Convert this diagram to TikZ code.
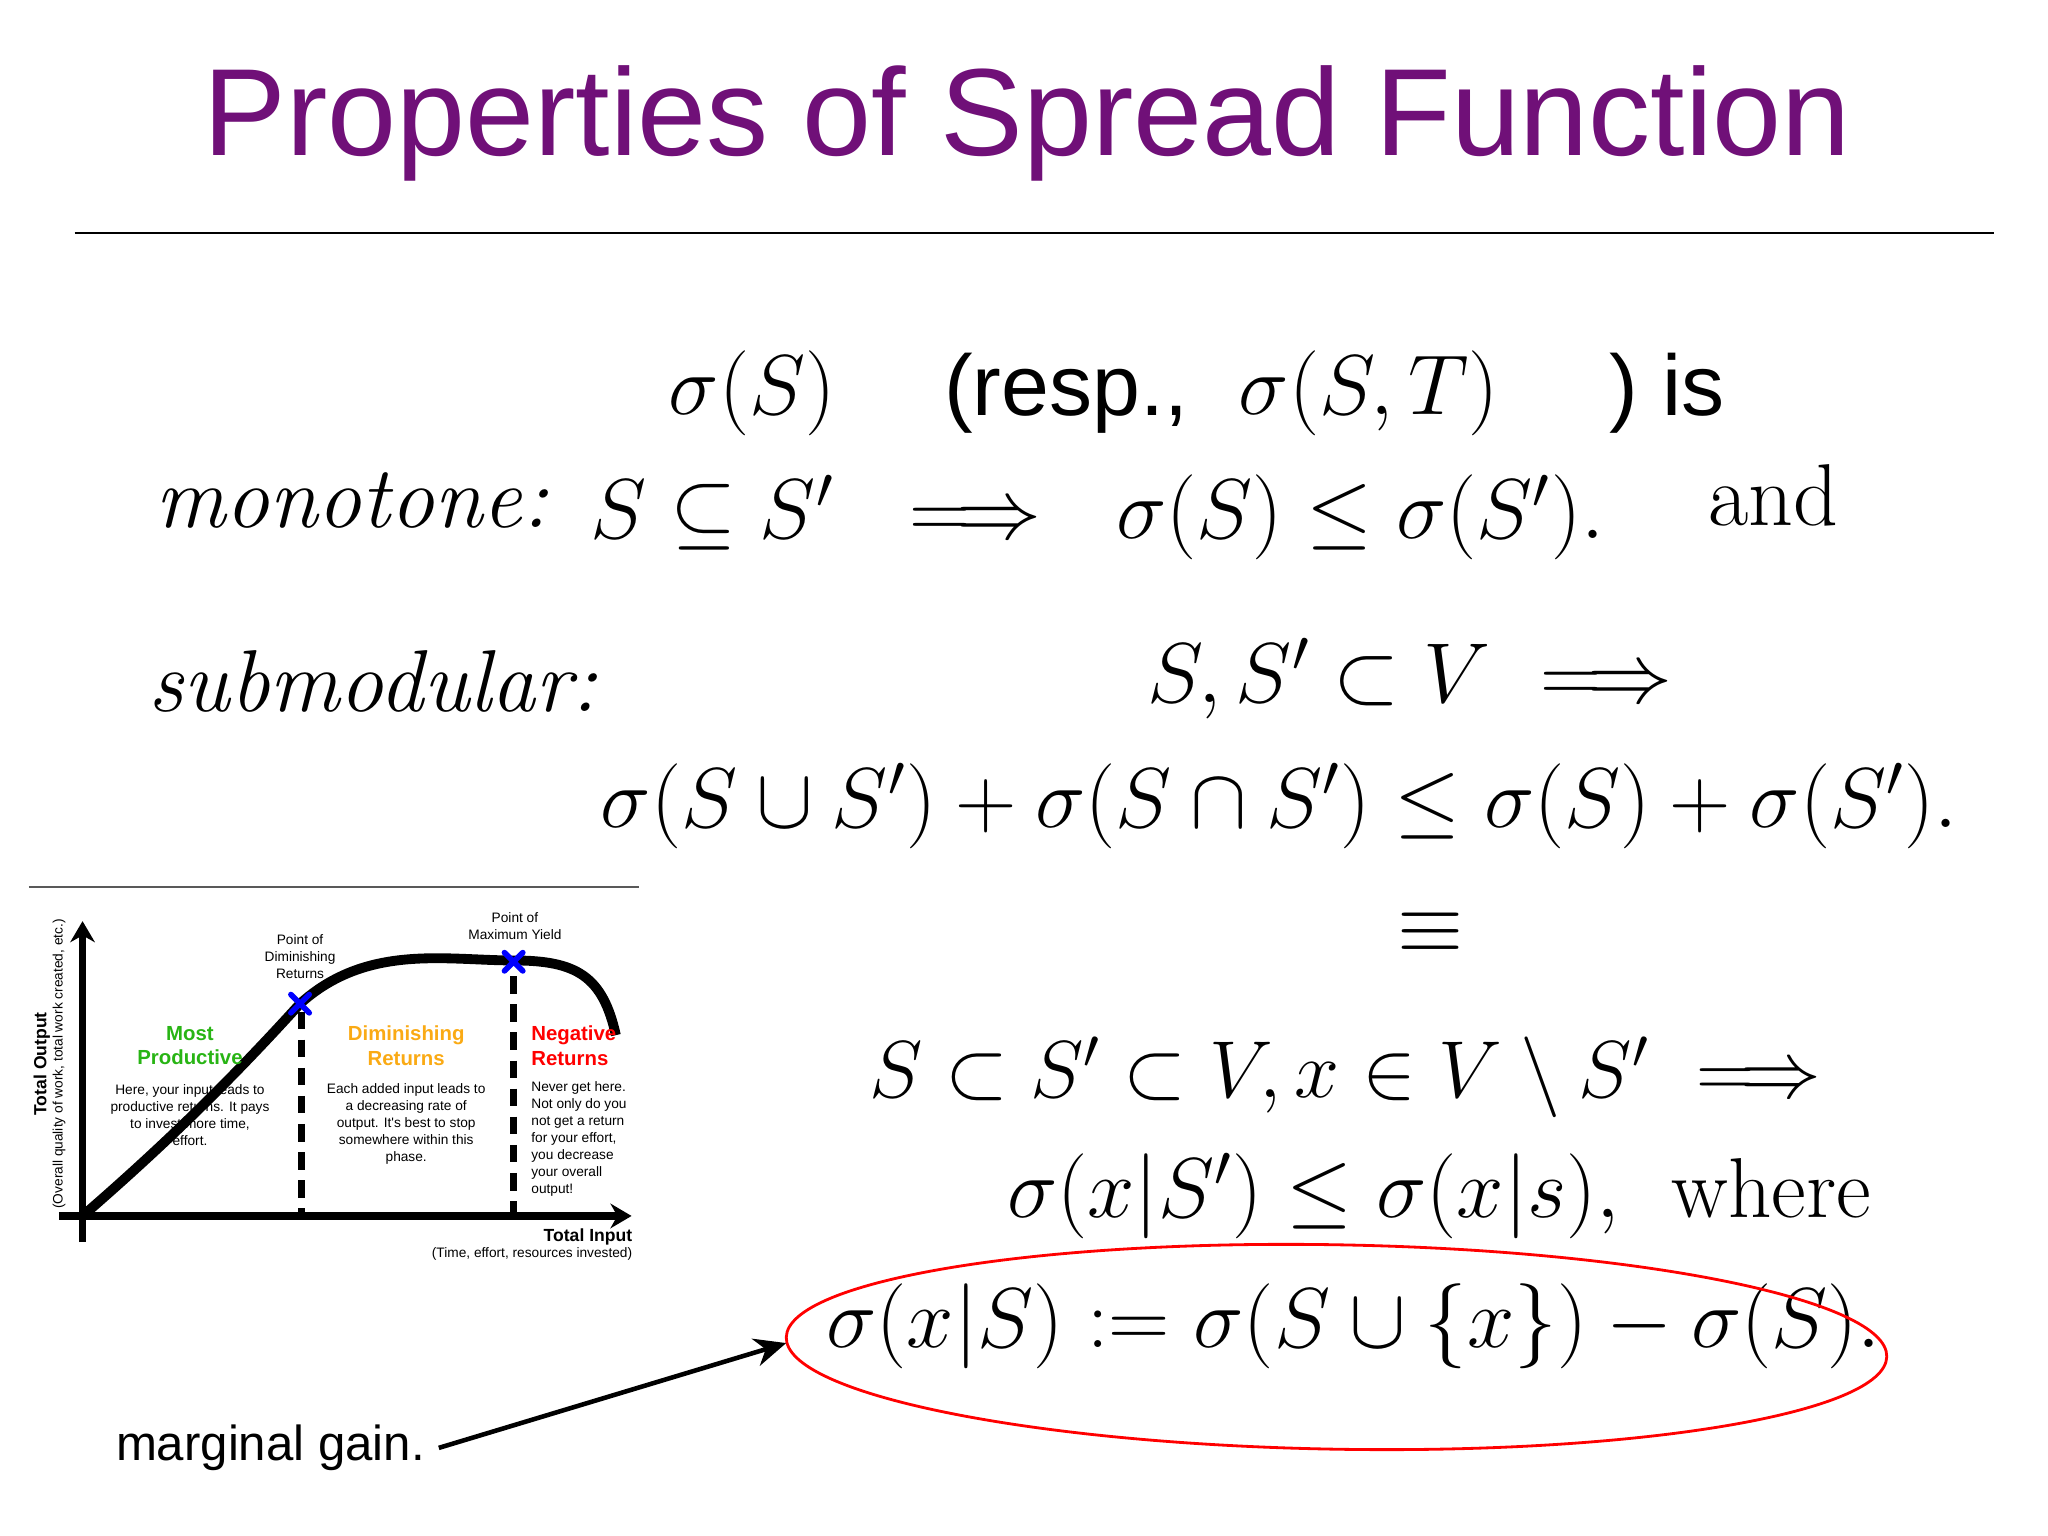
\RequirePackage{fix-cm}
\documentclass[tikz,border=0pt]{standalone}
\usepackage{fontspec}
\newfontfamily\hv{Liberation Sans}
\usetikzlibrary{arrows.meta}
\definecolor{ttl}{RGB}{112,16,120}
\definecolor{grn}{RGB}{40,180,20}
\definecolor{org}{RGB}{250,170,20}
\tikzset{
 mth/.style={anchor=west,inner sep=0pt,font=\fontsize{24.2}{29}\selectfont},
 small/.style={font=\hv\fontsize{3.9}{4.85}\selectfont,inner sep=0pt,align=center},
 head/.style={font=\hv\bfseries\fontsize{5.8}{7}\selectfont,inner sep=0pt,align=center},
 bx/.style={blue,line width=1.6pt,line cap=round}
}
\begin{document}
\begin{tikzpicture}[x=0.0131cm,y=-0.0131cm]
\useasboundingbox (0,0) rectangle (1563,1172);
\node[font=\hv\fontsize{35.3}{40}\selectfont,text=ttl,inner sep=0pt] (title) at (784,94) {Properties of Spread Function};
\draw[line width=0.7pt] (57,178) -- (1522,178);
% line 1
\node[mth] (l1a) at (510,300) {$\sigma(S)$};
\node[mth,font=\hv\fontsize{24.5}{30}\selectfont] (l1b) at (720,300) {(resp.,};
\node[mth] (l1c) at (945,300) {$\sigma(S,T)$};
\node[mth,font=\hv\fontsize{24.5}{30}\selectfont] (l1d) at (1228,300) {) is};
% line 2
\node[mth,font=\itshape\fontsize{25}{30}\selectfont] (mono) at (118,382) {monotone:};
\node[mth] (l2) at (450,395) {$S\subseteq S'\ \ \Longrightarrow\ \ \sigma(S)\le\sigma(S').$};
\node[mth,font=\fontsize{25}{30}\selectfont] (and) at (1303,378) {and};
% line 3
\node[mth,font=\itshape\fontsize{25}{30}\selectfont] (sub) at (113,520) {submodular:};
\node[mth] (l3) at (875,518) {$S,S'\subset V\ \Longrightarrow$};
\node[mth] (l4) at (458,615) {$\sigma(S\cup S')+\sigma(S\cap S')\le\sigma(S)+\sigma(S').$};
\node[inner sep=0pt,font=\fontsize{24.2}{29}\selectfont] (eq) at (1092,712) {$\equiv$};
\node[mth,font=\fontsize{23}{28}\selectfont] (l6) at (663,822) {$S\subset S'\subset V, x\in V\setminus S'\ \Longrightarrow$};
\node[mth] (l7) at (768,913) {$\sigma(x|S')\le\sigma(x|s),$\ \ where};
\node[mth] (l8) at (630,1012) {$\sigma(x|S):=\sigma(S\cup\{x\})-\sigma(S).$};
\draw[red,line width=0.8pt,rotate around={-1:(1020,1028)}] (1020,1028) ellipse [x radius=420,y radius=78];
\coordinate (ell) at (600,1025);
\node[font=\hv\fontsize{14}{16}\selectfont,anchor=west,inner sep=0pt] (mg) at (88,1105) {marginal gain.};
\draw[-{Stealth[length=9pt,width=8pt]},line width=1.3pt] (mg.east)++(10,0) -- (ell);
% chart
\draw[line width=0.5pt,gray!70!black] (22,677) -- (488,677);
\draw[line width=2.2pt,-{Stealth[length=6pt,width=7pt]}] (63,948) -- (63,703);
\draw[line width=2.2pt,-{Stealth[length=6pt,width=7pt]}] (45,928) -- (482,928);
\draw[line width=2.8pt] (63,928) .. controls (130,870) and (180,820) .. (229,766)
  .. controls (280,720) and (340,733) .. (392,733)
  .. controls (440,733) and (460,745) .. (470,790);
\draw[line width=2pt,dash pattern=on 5pt off 3pt] (230,772) -- (230,925);
\draw[line width=2pt,dash pattern=on 5pt off 3pt] (392,745) -- (392,925);
\draw[bx] (222,759) -- (236,773) (222,773) -- (236,759);
\draw[bx] (385,727) -- (399,741) (385,741) -- (399,727);
\node[small] (pd) at (229,730) {Point of\\Diminishing\\Returns};
\node[small] (pm) at (393,707) {Point of\\Maximum Yield};
\node[head,text=grn] (h1) at (145,798) {Most\\Productive};
\node[small] (t1) at (145,851) {Here, your input leads to\\productive returns. It pays\\to invest more time,\\effort.};
\node[head,text=org] (h2) at (310,798) {Diminishing\\Returns};
\node[small] (t2) at (310,858) {Each added input leads to\\a decreasing rate of\\output. It's best to stop\\somewhere within this\\phase.};
\node[head,text=red,align=left,anchor=west] (h3) at (405,798) {Negative\\Returns};
\node[small,align=left,anchor=west] (t3) at (405,869) {Never get here.\\Not only do you\\not get a return\\for your effort,\\you decrease\\your overall\\output!};
\node[font=\hv\bfseries\fontsize{5}{6}\selectfont,rotate=90,inner sep=0pt] (yl) at (32,812) {Total Output};
\node[small,rotate=90] (yl2) at (45,812) {(Overall quality of work, total work created, etc.)};
\node[font=\hv\bfseries\fontsize{5}{6}\selectfont,anchor=east,inner sep=0pt] (xl) at (483,944) {Total Input};
\node[small,anchor=east] (xl2) at (483,957) {(Time, effort, resources invested)};
\end{tikzpicture}
\end{document}
